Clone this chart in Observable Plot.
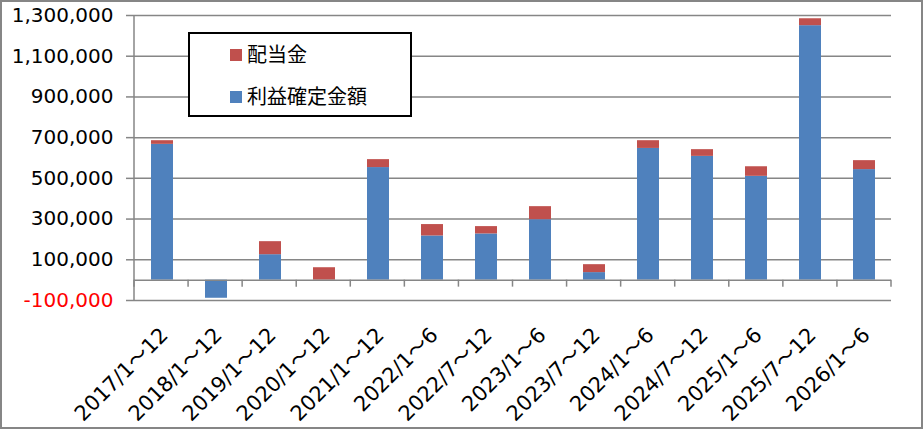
<!DOCTYPE html>
<html><head><meta charset="utf-8">
<script src="https://cdn.jsdelivr.net/npm/d3@7"></script>
<script src="https://cdn.jsdelivr.net/npm/@observablehq/plot@0.6"></script>
<style>
body{margin:0;background:#fff}
#wrap{position:relative;width:923px;height:429px;overflow:hidden;background:#fff}
#border{position:absolute;left:0;top:0;width:923px;height:429px;box-sizing:border-box;border:2px solid #868686;pointer-events:none}
#legend{position:absolute;left:188px;top:32px;width:224px;height:85px;box-sizing:border-box;border:2px solid #000;background:#fff;font-family:"Noto Sans CJK JP","Noto Sans CJK SC",sans-serif;font-size:20px;color:#000}
.row{position:absolute;left:40px;height:24px;line-height:24px;white-space:nowrap}
.sw{display:inline-block;width:12px;height:12px;vertical-align:middle;margin-right:5px;position:relative;top:-2px}
#chart svg{position:absolute;left:0;top:0}
</style></head>
<body>
<div id="wrap"><div id="chart"></div><div id="legend"></div><div id="border"></div></div>
<script>
const categories = ["2017/1～12","2018/1～12","2019/1～12","2020/1～12","2021/1～12","2022/1～6","2022/7～12","2023/1～6","2023/7～12","2024/1～6","2024/7～12","2025/1～6","2025/7～12","2026/1～6"];
const profit   = [667000,-89000,125000,0,553000,217000,227000,297000,37000,647000,608000,510000,1250000,543000];
const dividend = [18000,0,64000,61000,39000,56000,36000,64000,39000,38000,33000,47000,34000,44000];
const series = ["利益確定金額","配当金"];
const colors = ["#4F81BD","#C0504D"];
const legendOrder = ["配当金","利益確定金額"];
const yTicks = [-100000,100000,300000,500000,700000,900000,1100000,1300000];

const data = [];
categories.forEach((c,i)=>{
  data.push({cat:c, series:series[0], value:profit[i]});
  data.push({cat:c, series:series[1], value:dividend[i]});
});

const grid = "#868686";
const fmt = d => d3.format(",")(d).replace("\u2212", "-");

function frameAndCategoryTicks(...args){
  const scales = args.find(a => a && typeof a === "object" && !Array.isArray(a) && typeof a.x === "function" && typeof a.y === "function");
  const dims = args.find(a => a && typeof a === "object" && "marginLeft" in a && "width" in a);
  const g = d3.create("svg:g");
  const left = dims.marginLeft, right = dims.width - dims.marginRight;
  const top = dims.marginTop, bottom = dims.height - dims.marginBottom;
  const y0 = scales.y(0);
  const step = (right - left) / categories.length;
  for (let k = 0; k <= categories.length; k++) {
    const xx = left + k*step;
    g.append("line").attr("x1",xx).attr("x2",xx).attr("y1",y0).attr("y2",y0+7)
      .attr("stroke",grid).attr("stroke-width",1.5);
  }
  g.append("line").attr("x1",left).attr("x2",left).attr("y1",top).attr("y2",bottom)
    .attr("stroke",grid).attr("stroke-width",1.5);
  return g.node();
}

const chart = Plot.plot({
  width: 923, height: 429,
  marginLeft: 134, marginRight: 32, marginTop: 15, marginBottom: 129,
  style: {fontFamily: '"DejaVu Sans","Noto Sans CJK JP",sans-serif', fontSize: "20px", color: "#000", background: "transparent"},
  x: {domain: categories, paddingInner: 0.593, paddingOuter: 0.2965, align: 0.5, label: null, axis: null},
  y: {domain: [-100000, 1300000], label: null, axis: null},
  color: {domain: series, range: colors},
  marks: [
    Plot.gridY(yTicks, {stroke: grid, strokeOpacity: 1, strokeWidth: 1.5}),
    Plot.barY(data, {x: "cat", y: "value", fill: "series", order: series}),
    Plot.ruleY([0], {stroke: grid, strokeWidth: 1.5}),
    frameAndCategoryTicks,
    Plot.axisY(yTicks.filter(d => d >= 0), {tickSize: 8, tickPadding: 13, stroke: grid, strokeWidth: 1.5, fill: "#000", tickFormat: fmt, label: null}),
    Plot.axisY(yTicks.filter(d => d < 0), {tickSize: 8, tickPadding: 13, stroke: grid, strokeWidth: 1.5, fill: "#FF0000", tickFormat: fmt, label: null}),
    Plot.axisX({anchor: "bottom", tickRotate: -45, tickSize: 0, tickPadding: 31, dx: 2, fontSize: 21, fill: "#000", label: null})
  ]
});
document.getElementById("chart").appendChild(chart);

const leg = document.getElementById("legend");
legendOrder.forEach((name, i) => {
  const row = document.createElement("div");
  row.className = "row";
  row.style.top = (8 + i*42) + "px";
  const sw = document.createElement("span");
  sw.className = "sw";
  sw.style.background = colors[series.indexOf(name)];
  row.appendChild(sw);
  row.appendChild(document.createTextNode(name));
  leg.appendChild(row);
});
</script>
</body></html>
